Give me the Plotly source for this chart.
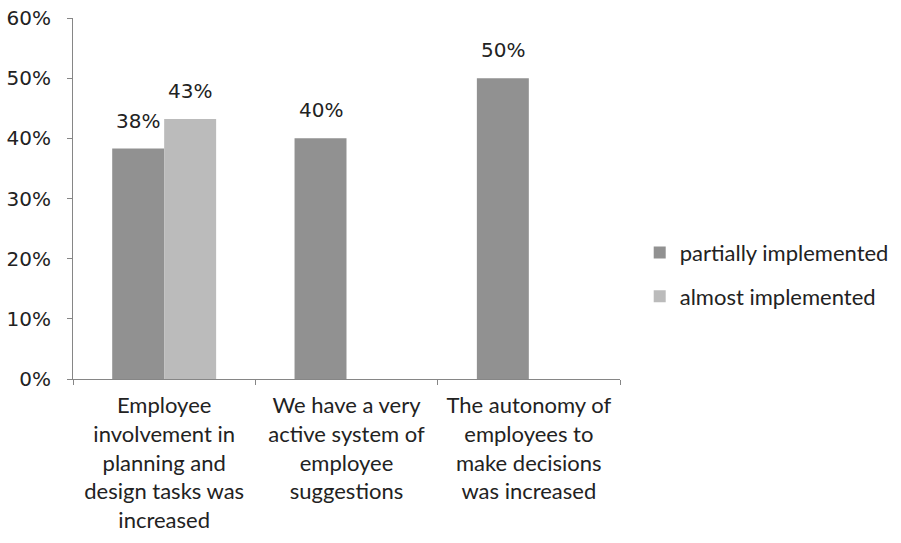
import plotly.graph_objects as go

categories = [
    "Employee<br>involvement in<br>planning and<br>design tasks was<br>increased",
    "We have a very<br>active system of<br>employee<br>suggestions",
    "The autonomy of<br>employees to<br>make decisions<br>was increased",
]
partially = [0.383, 0.40, 0.50]
almost = [0.432, None, None]
series_names = ["partially implemented", "almost implemented"]
y_ticks = [0, 0.1, 0.2, 0.3, 0.4, 0.5, 0.6]

COL_DARK = "#919191"
COL_LIGHT = "#bbbbbb"
AXIS_COL = "#868686"
TXT = "#222222"
BARGAP = 0.43

fig = go.Figure()
fig.add_trace(go.Bar(x=categories, y=partially, name=series_names[0],
                     marker=dict(color=COL_DARK, line=dict(width=0)), legendgroup="a"))
fig.add_trace(go.Bar(x=categories, y=almost, name=series_names[1],
                     marker=dict(color=COL_LIGHT, line=dict(width=0)), legendgroup="b"))

# data labels above bars
off = (1 - BARGAP) / 4
annotations = []
for s, (vals, sign) in enumerate([(partially, -1), (almost, 1)]):
    for i, v in enumerate(vals):
        if v is None:
            continue
        annotations.append(dict(
            x=i + sign * off, y=v, xref="x", yref="y",
            text=f"{v:.0%}", showarrow=False, yanchor="bottom", yshift=14,
            font=dict(family="DejaVu Sans", size=20, color=TXT)))

fig.update_layout(
    width=901, height=543,
    margin=dict(l=73, r=281, t=18, b=164),
    paper_bgcolor="white", plot_bgcolor="white",
    barmode="group", bargap=BARGAP, bargroupgap=0,
    showlegend=True,
    legend=dict(xref="container", yref="container", x=0.71, y=0.494,
                xanchor="left", yanchor="middle",
                font=dict(family="Lato", size=22, color=TXT),
                tracegroupgap=12, traceorder="grouped", bgcolor="rgba(0,0,0,0)"),
    annotations=annotations,
)
fig.update_yaxes(range=[0, 0.6], tickvals=y_ticks, tickformat=".0%",
                 showgrid=False, zeroline=False, automargin=False,
                 showline=True, linecolor=AXIS_COL, linewidth=1,
                 ticks="outside", ticklen=5, tickcolor=AXIS_COL,
                 ticklabelstandoff=12,
                 tickfont=dict(family="DejaVu Sans", size=20, color=TXT))
fig.update_xaxes(showgrid=False, showline=True, linecolor=AXIS_COL, linewidth=1,
                 automargin=False,
                 ticks="outside", ticklen=5, tickcolor=AXIS_COL, tickson="boundaries",
                 ticklabelstandoff=7,
                 tickfont=dict(family="Lato", size=22, color=TXT))

fig.write_html("out.html")
